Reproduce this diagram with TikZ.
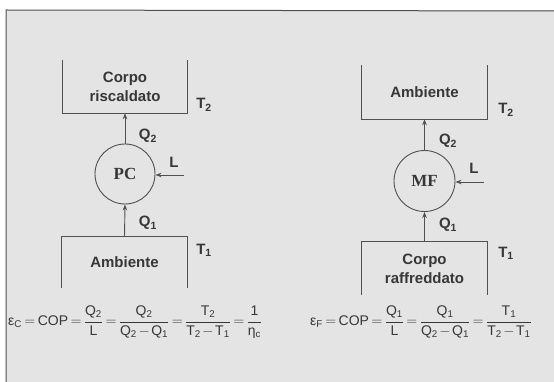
\documentclass[tikz,border=0pt]{standalone}
\usepackage{fontspec}
\setmainfont{Liberation Sans}
\newfontfamily\serifbf{Liberation Serif}
\usetikzlibrary{arrows.meta}
\definecolor{panel}{RGB}{228,228,228}
\definecolor{ink}{RGB}{80,80,80}
\definecolor{txt}{RGB}{55,55,55}
\newcommand\sbs[1]{\textsubscript{#1}}
\newcommand\tightmath{\thickmuskip=3mu\relax\medmuskip=2mu\relax\displaystyle}
\begin{document}
\begin{tikzpicture}[x=1pt,y=-1pt,
  boxlbl/.style={inner sep=0pt,align=center,font=\fontsize{15}{19}\selectfont\bfseries,text=txt},
  lbl/.style={inner sep=0pt,font=\fontsize{15}{18}\selectfont\bfseries,text=txt},
  machine/.style={circle,draw=ink,line width=0.9pt,inner sep=0pt,font=\fontsize{17}{20}\selectfont\serifbf\bfseries,text=txt},
  wall/.style={draw=ink,line width=0.9pt},
  flow/.style={draw=ink,line width=0.9pt,-{Stealth[length=6pt,width=4.5pt]}},
  formula/.style={inner sep=0pt,anchor=west,font=\fontsize{14}{17}\selectfont,text=txt}]
\useasboundingbox (0,0) rectangle (554,382);
\fill[white] (0,0) rectangle (554,382);
\fill[panel] (6,10) rectangle (554,382);
\draw[ink,line width=1pt] (6,382) -- (6,10) -- (554,11);
% left: heat pump
\node[boxlbl,minimum width=124pt,minimum height=53pt] (lt) at (125,86.5) {Corpo\\riscaldato};
\draw[wall] (lt.north west) -- (lt.south west) -- (lt.south east) -- (lt.north east);
\node[boxlbl,minimum width=125pt,minimum height=51pt] (lb) at (124.5,262.5) {Ambiente};
\draw[wall] (lb.south west) -- (lb.north west) -- (lb.north east) -- (lb.south east);
\node[machine,minimum size=60pt] (pc) at (125,174) {PC};
\coordinate (lin) at (184,175);
\draw[flow] (pc.north) -- (lt.south);
\draw[flow] (lb.north) -- (pc.south);
\draw[flow] (lin) -- (pc.east |- lin);
\node[lbl] (q2a) at (148,136) {Q\sbs{2}};
\node[lbl] (q1a) at (148,223) {Q\sbs{1}};
\node[lbl] (la) at (174,162) {L};
\node[lbl] (t2a) at (204,105) {T\sbs{2}};
\node[lbl] (t1a) at (204,250) {T\sbs{1}};
% right: refrigerator
\node[boxlbl,minimum width=125pt,minimum height=54pt] (rt) at (424.5,92) {Ambiente};
\draw[wall] (rt.north west) -- (rt.south west) -- (rt.south east) -- (rt.north east);
\node[boxlbl,minimum width=125pt,minimum height=53pt] (rb) at (424.5,268.5) {Corpo\\raffreddato};
\draw[wall] (rb.south west) -- (rb.north west) -- (rb.north east) -- (rb.south east);
\node[machine,minimum size=61pt] (mf) at (424.5,181) {MF};
\coordinate (rin) at (484,182);
\draw[flow] (mf.north) -- (rt.south);
\draw[flow] (rb.north) -- (mf.south);
\draw[flow] (rin) -- (mf.east |- rin);
\node[lbl] (q2b) at (448,141) {Q\sbs{2}};
\node[lbl] (q1b) at (448,225) {Q\sbs{1}};
\node[lbl] (lbb) at (474,168) {L};
\node[lbl] (t2b) at (506,110) {T\sbs{2}};
\node[lbl] (t1b) at (506,253) {T\sbs{1}};
% formulas
\node[formula] (fa) at (8,322) {$\tightmath \hbox{ε\sbs{C}} = \hbox{COP} = \frac{\hbox{Q\sbs{2}}}{\hbox{L}} = \frac{\hbox{Q\sbs{2}}}{\hbox{Q\sbs{2}}-\hbox{Q\sbs{1}}} = \frac{\hbox{T\sbs{2}}}{\hbox{T\sbs{2}}-\hbox{T\sbs{1}}} = \frac{\hbox{1}}{\hbox{η\sbs{c}}}$};
\node[formula] (fb) at (310,322) {$\tightmath \hbox{ε\sbs{F}} = \hbox{COP} = \frac{\hbox{Q\sbs{1}}}{\hbox{L}} = \frac{\hbox{Q\sbs{1}}}{\hbox{Q\sbs{2}}-\hbox{Q\sbs{1}}} = \frac{\hbox{T\sbs{1}}}{\hbox{T\sbs{2}}-\hbox{T\sbs{1}}}$};
\end{tikzpicture}
\end{document}
